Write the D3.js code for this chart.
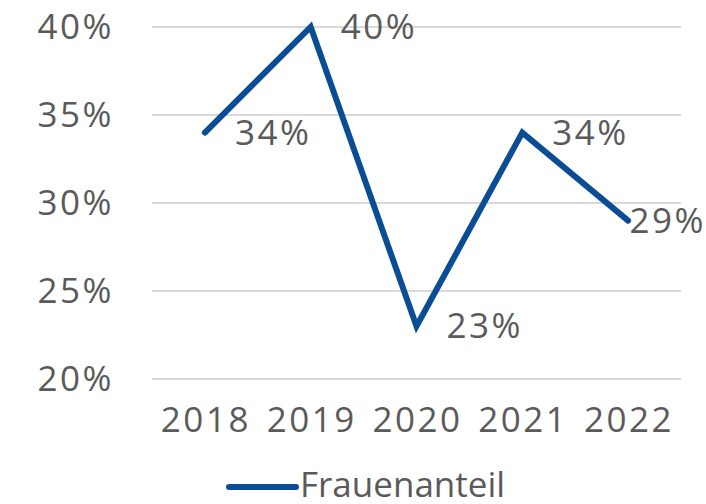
<!DOCTYPE html>
<html>
<head>
  <meta charset="utf-8">
  <title>Frauenanteil</title>
  <script src="https://cdnjs.cloudflare.com/ajax/libs/d3/7.8.5/d3.min.js"></script>
  <style>
    body { margin: 0; background: #fff; }
    svg text { font-family: "Open Sans", sans-serif; fill: #5a5a5a; font-size: 35px; letter-spacing: 2.5px; }
    svg text.legend { letter-spacing: 0; }
    .grid line { stroke: #d9d9d9; stroke-width: 2px; }
    .line { fill: none; stroke: #0b4d94; stroke-width: 6px; stroke-linejoin: miter; stroke-linecap: round; }
  </style>
</head>
<body>
<svg id="chart" width="706" height="504"></svg>
<script>
  // data
  var years = ["2018", "2019", "2020", "2021", "2022"];
  var frauenanteil = [0.34, 0.40, 0.23, 0.34, 0.29];
  var yTicks = [0.20, 0.25, 0.30, 0.35, 0.40];
  var seriesName = "Frauenanteil";

  var svg = d3.select("#chart");
  var plotLeft = 152, plotRight = 681, plotTop = 27, plotBottom = 379;
  var fmt = d3.format(".0%");

  var x = d3.scalePoint().domain(years).range([plotLeft, plotRight]).padding(0.5);
  var y = d3.scaleLinear().domain([0.20, 0.40]).range([plotBottom, plotTop]);

  // gridlines
  svg.append("g").attr("class", "grid")
    .selectAll("line").data(yTicks).enter().append("line")
    .attr("x1", plotLeft).attr("x2", plotRight)
    .attr("y1", d => y(d)).attr("y2", d => y(d));

  // y axis labels
  svg.append("g").selectAll("text").data(yTicks).enter().append("text")
    .attr("x", 114).attr("y", d => y(d))
    .attr("dy", "0.35em")
    .attr("text-anchor", "end")
    .text(d => fmt(d));

  // x axis labels
  svg.append("g").selectAll("text").data(years).enter().append("text")
    .attr("x", d => x(d) + 1).attr("y", 432)
    .attr("text-anchor", "middle")
    .text(d => d);

  var line = d3.line().x((d, i) => x(years[i])).y(d => y(d));
  svg.append("path").datum(frauenanteil).attr("class", "line").attr("d", line);

  // data labels, right of point, kept inside the picture
  svg.append("g").selectAll("text").data(frauenanteil).enter().append("text")
    .attr("y", d => y(d)).attr("dy", "0.35em")
    .text(d => fmt(d))
    .attr("x", function(d, i) {
      var w = this.getComputedTextLength();
      return Math.min(x(years[i]) + 30, 706 - w);
    });

  // legend
  var lg = svg.append("g");
  lg.append("line").attr("x1", 229).attr("x2", 296).attr("y1", 487).attr("y2", 487)
    .attr("class", "line");
  lg.append("text").attr("class", "legend").attr("x", 300).attr("y", 497).text(seriesName);
</script>
</body>
</html>
